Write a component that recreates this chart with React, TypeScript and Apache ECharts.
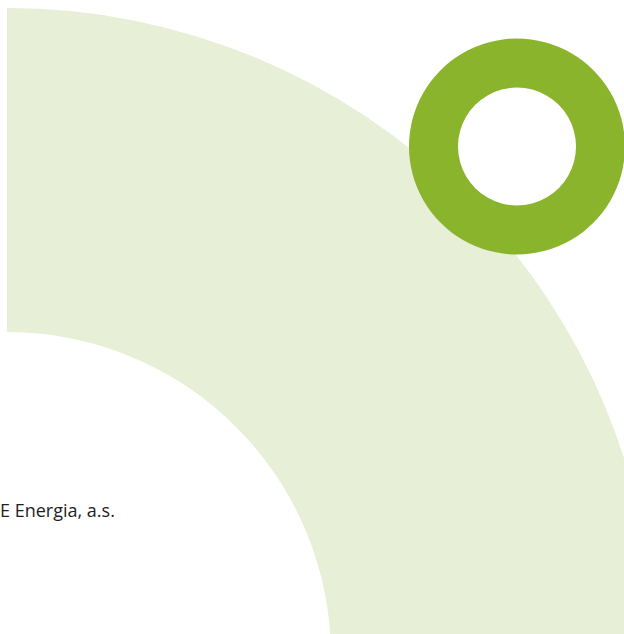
import React, { useEffect, useRef } from "react";
import * as echarts from "echarts";

const bigRingShares = [25, 75];
const smallRingShares = [100];
const footnote = "E Energia, a.s.";

export default function App() {
  const ref = useRef<HTMLDivElement>(null);
  useEffect(() => {
    if (!ref.current) return;
    const chart = echarts.init(ref.current, null, { renderer: "svg" });
    chart.setOption({
      animation: false,
      backgroundColor: "#ffffff",
      series: [
        {
          type: "pie",
          silent: true,
          center: [7, 656],
          radius: [324, 648],
          startAngle: 90,
          clockwise: true,
          label: { show: false },
          labelLine: { show: false },
          emphasis: { disabled: true },
          data: bigRingShares.map((v, i) => ({
            value: v,
            itemStyle: { color: i === 0 ? "#e7efd6" : "rgba(0,0,0,0)" },
          })),
        },
        {
          type: "pie",
          silent: true,
          center: [517, 146.5],
          radius: [59, 108],
          label: { show: false },
          labelLine: { show: false },
          emphasis: { disabled: true },
          data: smallRingShares.map((v) => ({ value: v, itemStyle: { color: "#8ab42c" } })),
        },
      ],
      graphic: [
        {
          type: "text",
          left: 0,
          top: 501,
          style: {
            text: footnote,
            fontFamily: "Open Sans",
            fontSize: 18,
            fill: "#1e1e1e",
          },
        },
      ],
    });
    return () => chart.dispose();
  }, []);
  return (
    <div
      ref={ref}
      style={{ position: "fixed", left: 0, top: 0, width: 624, height: 634 }}
    />
  );
}
